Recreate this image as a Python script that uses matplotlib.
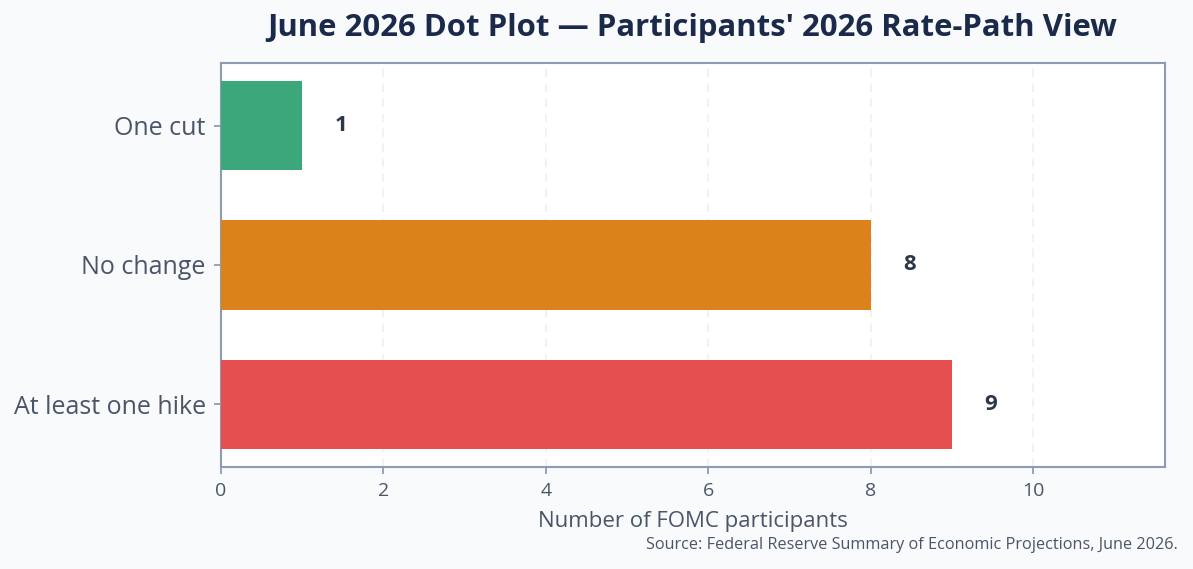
import matplotlib
matplotlib.use("Agg")
import matplotlib.pyplot as plt

categories = ["At least one hike", "No change", "One cut"]
counts = [9, 8, 1]
colors = ["#e64f4f", "#dc821a", "#3ca77b"]

title = "June 2026 Dot Plot \u2014 Participants' 2026 Rate-Path View"
xlabel = "Number of FOMC participants"
source = "Source: Federal Reserve Summary of Economic Projections, June 2026."

plt.rcParams['font.family'] = ['Open Sans', 'DejaVu Sans']

W, H = 1193, 569
fig = plt.figure(figsize=(W/100, H/100), dpi=100)
fig.patch.set_facecolor("#f8fafc")
ax = fig.add_axes([221/W, 1-467/H, (1165-221)/W, (467-63)/H])
ax.set_facecolor("white")

ypos = list(range(len(categories)))
ax.barh(ypos, counts, height=0.64, color=colors, zorder=3)
for y, v in zip(ypos, counts):
    ax.text(v + 0.4, y, str(v), va="center", ha="left", fontsize=16,
            fontweight="bold", color="#2d3748", zorder=4)

ax.set_yticks(ypos)
ax.set_yticklabels(categories, fontsize=18, color="#4a5568")
ax.set_xlim(0, 11.62)
ax.set_xticks([0, 2, 4, 6, 8, 10])
ax.tick_params(axis="x", labelsize=14, colors="#4a5568", length=5, width=1.3,
               color="#8e9bb2", pad=6)
ax.tick_params(axis="y", length=5, width=1.3, color="#8e9bb2", pad=6)
for lab in ax.get_xticklabels():
    lab.set_color("#4a5568")
ax.grid(axis="x", color="#eef1f5", linestyle=(0, (5, 4)), linewidth=1.2, zorder=0)
ax.set_axisbelow(True)
for s in ax.spines.values():
    s.set_color("#8e9bb2")
    s.set_linewidth(1.5)

fig.text(693/W, 1-522/H, xlabel, ha="center", va="center", fontsize=16, color="#4a5568")
fig.text(692/W, 1-28/H, title, ha="center", va="center", fontsize=22.4,
         fontweight="bold", color="#1b2a4a")
fig.text(1178/W, 1-545/H, source, ha="right", va="center", fontsize=11.7, color="#4a5568")

fig.savefig("out.png", dpi=100, facecolor=fig.get_facecolor())
